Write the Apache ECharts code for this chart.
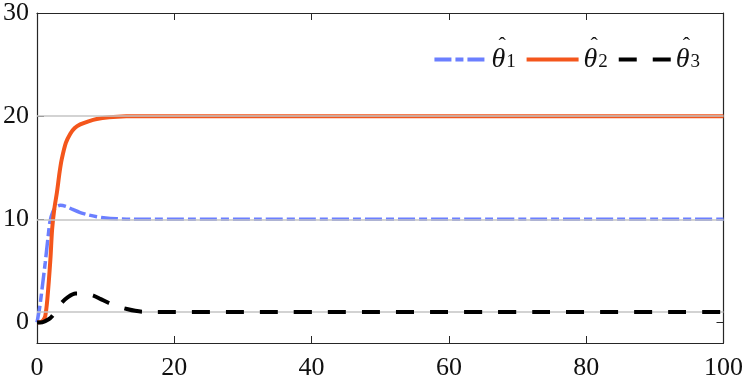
<!DOCTYPE html>
<html>
<head>
<meta charset="utf-8">
<script src="https://cdn.jsdelivr.net/npm/echarts@6/dist/echarts.min.js"></script>
<style>
  html, body { margin: 0; padding: 0; background: #fff; }
  #chart { width: 747px; height: 381px; }
</style>
</head>
<body>
<div id="chart"></div>
<script>
// time samples + estimated values
var t1 = [0, 0.4, 0.8, 1.2, 1.6, 1.9, 2.3, 2.8, 3.4, 4.2, 5.2, 6.3, 7.5, 8.7, 10, 11.6, 14, 100];
var theta1 = [0, 1.5, 3.6, 5.8, 8.2, 9.8, 10.7, 11.2, 11.36, 11.25, 10.95, 10.65, 10.42, 10.25, 10.12, 10.05, 10.0, 10.0];

var t2 = [0, 0.5, 0.9, 1.2, 1.5, 1.95, 2.2, 2.5, 2.9, 3.3, 3.6, 4.2, 4.85, 5.5, 6.3, 7.5, 8.7, 10.5, 13, 16, 100];
var theta2 = [0, 0.02, 0.2, 0.6, 2.2, 6.1, 9.0, 10.9, 12.6, 14.6, 15.8, 17.4, 18.3, 18.85, 19.2, 19.5, 19.72, 19.88, 19.98, 20.0, 20.0];

var t3 = [0, 0.8, 1.7, 2.2, 2.9, 3.6, 4.5, 5.6, 6.8, 8.2, 9.3, 10.4, 11.7, 13.1, 14.3, 15.3, 17, 100];
var theta3 = [0, 0.02, 0.3, 0.6, 1.25, 1.9, 2.45, 2.8, 2.8, 2.6, 2.25, 1.9, 1.55, 1.3, 1.12, 1.03, 1.0, 1.0];

// true parameter values (grey reference lines)
var trueValues = [10, 20, 1];

var xTicks = [0, 20, 40, 60, 80, 100];
var yTicks = [0, 10, 20, 30];
var names = ['t1', 't2', 't3'];

function pairs(t, v) {
  return t.map(function (x, i) { return [x, v[i]]; });
}

var font = '"Liberation Serif", "DejaVu Serif", serif';
var axisCol = '#262626';

var chart = echarts.init(document.getElementById('chart'));

var option = {
  animation: false,
  grid: { left: 36.7, right: 23.5, top: 13, bottom: 38 },
  legend: {
    data: names,
    right: 42,
    top: 30,
    itemWidth: 52,
    itemHeight: 14,
    itemGap: 9,
    itemStyle: { opacity: 0 },
    lineStyle: { width: 3.8 },
    // hat on its own short line above the theta, empty line below to keep it centred
    formatter: function (n) {
      return '{h|ˆ}\n{t|θ}{s|' + n.slice(1) + '}\n{e| }';
    },
    textStyle: {
      rich: {
        h: { fontFamily: font, fontSize: 22, lineHeight: 3, color: '#111', padding: [0, 0, 0, 7] },
        t: { fontFamily: font, fontStyle: 'italic', fontSize: 28, lineHeight: 24, color: '#111' },
        s: { fontFamily: font, fontSize: 19, lineHeight: 24, color: '#111', verticalAlign: 'bottom', padding: [11, 0, 0, 1] },
        e: { fontSize: 8, lineHeight: 3 }
      }
    }
  },
  xAxis: [{
    type: 'value', min: 0, max: 100, interval: 20,
    position: 'bottom',
    splitLine: { show: false },
    axisLine: { onZero: false, lineStyle: { color: axisCol, width: 1.2 } },
    axisTick: { inside: true, length: 7, lineStyle: { color: axisCol } },
    axisLabel: { fontFamily: font, fontSize: 26, color: '#111', margin: 12 }
  }, {
    type: 'value', min: 0, max: 100, interval: 20,
    position: 'top',
    splitLine: { show: false },
    axisLine: { onZero: false, lineStyle: { color: axisCol, width: 1.2 } },
    axisTick: { inside: true, length: 7, lineStyle: { color: axisCol } },
    axisLabel: { show: false }
  }],
  yAxis: [{
    type: 'value', min: -2, max: 30,
    position: 'left',
    splitLine: { show: false },
    axisLine: { show: true, onZero: false, lineStyle: { color: axisCol, width: 1.2 } },
    axisTick: { show: true, inside: true, length: 7, customValues: yTicks, lineStyle: { color: axisCol } },
    axisLabel: { customValues: yTicks, fontFamily: font, fontSize: 26, color: '#111', margin: 8 }
  }, {
    type: 'value', min: -2, max: 30,
    position: 'right',
    splitLine: { show: false },
    axisLine: { show: true, onZero: false, lineStyle: { color: axisCol, width: 1.2 } },
    axisTick: { show: true, inside: true, length: 7, customValues: yTicks, lineStyle: { color: axisCol } },
    axisLabel: { show: false }
  }],
  series: [{
    name: 'ref',
    type: 'line',
    data: [],
    z: 1,
    markLine: {
      silent: true,
      symbol: 'none',
      label: { show: false },
      lineStyle: { color: '#c4c4c4', width: 1.6, type: 'solid' },
      data: trueValues.map(function (v) { return { yAxis: v }; })
    }
  }, {
    name: 't1',
    type: 'line',
    data: pairs(t1, theta1),
    smooth: 0.3,
    symbol: 'none',
    z: 3,
    color: '#6b7fff',
    lineStyle: { color: '#6b7fff', width: 3.5, type: [17, 4, 8, 4] }
  }, {
    name: 't2',
    type: 'line',
    data: pairs(t2, theta2),
    smooth: 0.3,
    symbol: 'none',
    z: 4,
    color: '#f4561c',
    lineStyle: { color: '#f4561c', width: 4 }
  }, {
    name: 't3',
    type: 'line',
    data: pairs(t3, theta3),
    smooth: 0.3,
    symbol: 'none',
    z: 5,
    color: '#000',
    lineStyle: { color: '#000', width: 4, type: [18, 16] }
  }]
};

chart.setOption(option);
</script>
</body>
</html>
